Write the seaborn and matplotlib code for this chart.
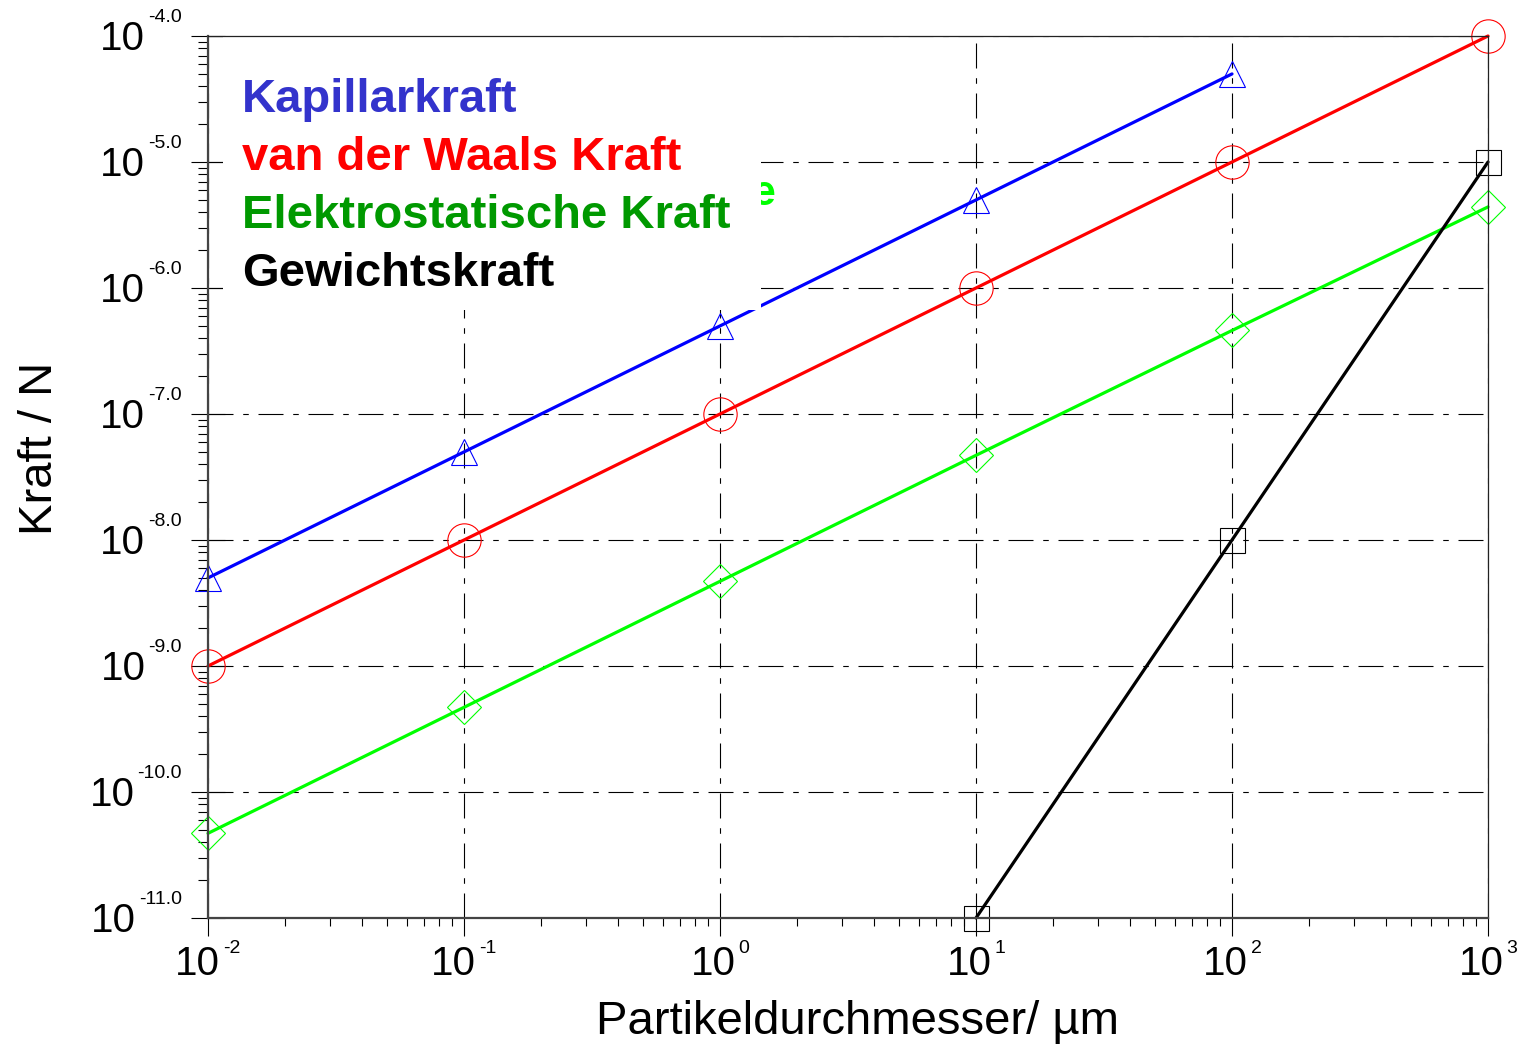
import numpy as np
import matplotlib
matplotlib.use("Agg")
import matplotlib.pyplot as plt
import seaborn as sns
from matplotlib.patches import Rectangle
from matplotlib.ticker import LogLocator, NullFormatter

# Particle diameter in micrometres
diameter_um = [1e-2, 1e-1, 1e0, 1e1, 1e2, 1e3]
kapillar_d = [1e-2, 1e-1, 1e0, 1e1, 1e2]
gewicht_d = [1e1, 1e2, 1e3]

# Adhesion / weight forces in newton
kapillar_N = [5e-9, 5e-8, 5e-7, 5e-6, 5e-5]
vdw_N = [1e-9, 1e-8, 1e-7, 1e-6, 1e-5, 1e-4]
elektro_N = [4.7e-11, 4.7e-10, 4.7e-9, 4.7e-8, 4.6e-7, 4.4e-6]
gewicht_N = [1e-11, 1e-8, 1e-5]

# Decade ticks and their exponent labels
x_ticks = [1e-2, 1e-1, 1e0, 1e1, 1e2, 1e3]
x_exp_labels = ["-2", "-1", "0", "1", "2", "3"]
y_ticks = [1e-4, 1e-5, 1e-6, 1e-7, 1e-8, 1e-9, 1e-10, 1e-11]
y_exp_labels = ["-4.0", "-5.0", "-6.0", "-7.0", "-8.0", "-9.0", "-10.0", "-11.0"]

legend_labels = ["Kapillarkraft", "van der Waals Kraft",
                 "Elektrostatische Kraft", "Gewichtskraft"]
legend_colors = ["#3333CC", "#FF0000", "#009900", "#000000"]

sns.set_style("ticks")
plt.rcParams["font.family"] = ["Liberation Sans", "DejaVu Sans"]
plt.rcParams["lines.scale_dashes"] = False
plt.rcParams["text.color"] = "black"
plt.rcParams["axes.labelcolor"] = "black"
plt.rcParams["xtick.color"] = "black"
plt.rcParams["ytick.color"] = "black"

W, H = 1519, 1045
fig = plt.figure(figsize=(W / 100, H / 100), dpi=100)
L, R, T, B = 208, 1488, 36, 918
ax = fig.add_axes([L / W, 1 - B / H, (R - L) / W, (B - T) / H])
ax.set_xscale("log")
ax.set_yscale("log")

series = [
    (kapillar_d, kapillar_N, "#0000FF", "^", 19),
    (diameter_um, vdw_N, "#FF0000", "o", 24),
    (diameter_um, elektro_N, "#00FF00", "D", 17),
    (gewicht_d, gewicht_N, "#000000", "s", 18),
]
for xs, ys, col, mk, ms in series:
    sns.lineplot(x=xs, y=ys, ax=ax, color=col, linewidth=2.3, marker=mk,
                 markersize=ms, markerfacecolor="none", markeredgecolor=col,
                 markeredgewidth=0.8, clip_on=False, zorder=2, legend=False)

ax.set_xlim(1e-2, 1e3)
ax.set_ylim(1e-11, 1e-4)

# ticks
ax.xaxis.set_major_locator(LogLocator(base=10, numticks=20))
ax.xaxis.set_minor_locator(LogLocator(base=10, subs=np.arange(2, 10), numticks=20))
ax.yaxis.set_major_locator(LogLocator(base=10, numticks=20))
ax.yaxis.set_minor_locator(LogLocator(base=10, subs=np.arange(2, 10), numticks=20))
for axis in (ax.xaxis, ax.yaxis):
    axis.set_major_formatter(NullFormatter())
    axis.set_minor_formatter(NullFormatter())
ax.tick_params(axis="x", which="major", direction="out", length=13, width=0.8,
               bottom=True, top=False, color="black")
ax.tick_params(axis="x", which="minor", direction="out", length=6, width=0.8,
               bottom=True, top=False, color="black")
ax.tick_params(axis="y", which="major", direction="inout", length=24, width=0.8,
               left=True, right=False, color="black")
ax.tick_params(axis="y", which="minor", direction="out", length=7, width=0.8,
               left=True, right=False, color="black")

ax.grid(True, which="major", color="black", linewidth=0.8,
        linestyle=(0, (18, 7, 4, 7)))
ax.grid(False, which="minor")
ax.set_axisbelow(True)

for side in ("top", "right"):
    ax.spines[side].set_visible(True)
    ax.spines[side].set_linewidth(0.9)
    ax.spines[side].set_color("#222222")
for side in ("left", "bottom"):
    ax.spines[side].set_linewidth(1.6)
    ax.spines[side].set_color("#444444")

# legend block
x0 = 0.012
x1 = (761 - L) / (R - L)
y0 = (B - 310) / (B - T)
ax.add_patch(Rectangle((x0, y0), x1 - x0, 1 - y0, transform=ax.transAxes,
                       facecolor="white", edgecolor="none", zorder=2.2))
ax.text((751 - L) / (R - L), (B - 205) / (B - T), "e", transform=ax.transAxes,
        color="#00FF00", fontsize=31, fontweight="bold", ha="left",
        va="baseline", zorder=2.1)
baselines = [112, 170, 228, 286]
for lab, col, bl in zip(legend_labels, legend_colors, baselines):
    ax.text((242 - L) / (R - L), (B - bl) / (B - T), lab, transform=ax.transAxes,
            color=col, fontsize=34, fontweight="bold", ha="left",
            va="baseline", zorder=3)

# power-of-ten tick labels
BASE_FS, SUP_FS, GAP = 29, 14, 3
fig.canvas.draw()
rend = fig.canvas.get_renderer()


def text_width(s, size):
    t = fig.text(0, 0, s, fontsize=size)
    w = t.get_window_extent(rend).width
    t.remove()
    return w


wb = text_width("10", BASE_FS)
for v, e in zip(x_ticks, x_exp_labels):
    ws = text_width(e, SUP_FS)
    start = -(wb + GAP + ws) / 2
    ax.annotate("10", xy=(v, 0), xycoords=("data", "axes fraction"),
                xytext=(start, -57), textcoords="offset pixels",
                ha="left", va="baseline", fontsize=BASE_FS, color="black")
    ax.annotate(e, xy=(v, 0), xycoords=("data", "axes fraction"),
                xytext=(start + wb + GAP, -35), textcoords="offset pixels",
                ha="left", va="baseline", fontsize=SUP_FS, color="black")

for v, e in zip(y_ticks, y_exp_labels):
    ws = text_width(e, SUP_FS)
    ax.annotate(e, xy=(0, v), xycoords=("axes fraction", "data"),
                xytext=(-26, 14), textcoords="offset pixels",
                ha="right", va="baseline", fontsize=SUP_FS, color="black")
    ax.annotate("10", xy=(0, v), xycoords=("axes fraction", "data"),
                xytext=(-26 - ws - GAP, -14), textcoords="offset pixels",
                ha="right", va="baseline", fontsize=BASE_FS, color="black")

# axis titles
fig.text(858 / W, 1 - 1034 / H, "Partikeldurchmesser/ µm", fontsize=34,
         ha="center", va="baseline", color="black")
fig.text(52 / W, 1 - 448 / H, "Kraft / N", fontsize=34, rotation=90,
         rotation_mode="anchor", ha="center", va="baseline", color="black")

fig.savefig("out.png", dpi=100)
